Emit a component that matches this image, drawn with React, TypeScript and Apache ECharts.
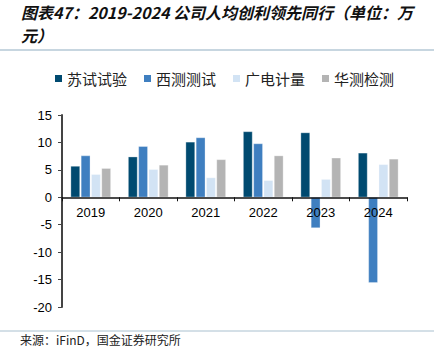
import React, { useEffect, useRef } from "react";
import * as echarts from "echarts";

const categories = ["2019", "2020", "2021", "2022", "2023", "2024"];
const seriesNames = ["苏试试验", "西测测试", "广电计量", "华测检测"];
const sushi = [5.7, 7.4, 10.1, 12.0, 11.8, 8.1];
const xice = [7.6, 9.3, 10.9, 9.8, -5.6, -15.6];
const guangdian = [4.2, 5.1, 3.6, 3.1, 3.3, 6.0];
const huace = [5.3, 5.9, 6.9, 7.6, 7.2, 7.0];
const yMin = -20;
const yMax = 15;
const yStep = 5;
const colors = ["#004a70", "#3f7fc0", "#d2e3f4", "#b4b4b4"];
const titleText = "图表47：2019-2024 公司人均创利领先同行（单位：万\n元）";
const sourceText = "来源：iFinD，国金证券研究所";

export default function App() {
  const ref = useRef<HTMLDivElement>(null);
  useEffect(() => {
    if (!ref.current) return;
    const chart = echarts.init(ref.current, null, { renderer: "svg" });
    const data = [sushi, xice, guangdian, huace];
    const gridTop = 115;
    const gridBottom = 45;
    const gridH = 352 - gridTop - gridBottom;
    const zeroOffset = -gridH * ((0 - yMin) / (yMax - yMin));
    chart.setOption({
      animation: false,
      backgroundColor: "#ffffff",
      color: colors,
      title: {
        text: titleText,
        left: 21,
        top: 0,
        padding: 0,
        textStyle: {
          fontFamily: "Noto Sans CJK SC",
          fontStyle: "italic",
          fontWeight: "bold",
          fontSize: 16,
          lineHeight: 23,
          color: "#111",
        },
      },
      legend: {
        data: seriesNames,
        top: 71,
        left: 55,
        padding: 0,
        itemWidth: 7,
        itemHeight: 7,
        itemGap: 17,
        itemStyle: { borderWidth: 0 },
        icon: "rect",
        textStyle: { fontFamily: "Noto Sans CJK SC", fontSize: 15, color: "#222" },
      },
      grid: { left: 62, right: 27, top: gridTop, bottom: gridBottom, containLabel: false },
      xAxis: {
        type: "category",
        data: categories,
        position: "bottom",
        offset: zeroOffset,
        z: 5,
        axisLine: { onZero: false, lineStyle: { color: "#111", width: 1.5 } },
        axisTick: { show: true, alignWithLabel: false, length: 4, lineStyle: { color: "#111" } },
        axisLabel: { margin: 9, fontFamily: "Liberation Sans", fontSize: 13, color: "#000" },
        splitLine: { show: false },
      },
      yAxis: {
        type: "value",
        min: yMin,
        max: yMax,
        interval: yStep,
        axisLine: { show: true, lineStyle: { color: "#444", width: 2 } },
        axisTick: { show: true, length: 4, lineStyle: { color: "#444" } },
        axisLabel: { margin: 10, fontFamily: "Liberation Sans", fontSize: 13, color: "#000" },
        splitLine: { show: false },
      },
      series: seriesNames.map((name, i) => ({
        name,
        type: "bar",
        z: 2,
        data: data[i],
        barGap: "10%",
        barCategoryGap: "30%",
        itemStyle: { color: colors[i], borderColor: "rgba(255,255,255,0.6)", borderWidth: 0.5 },
      })),
      graphic: [
        {
          type: "line",
          shape: { x1: 0, y1: 50, x2: 434, y2: 50 },
          style: { stroke: "#b4c8d6", lineWidth: 1.5 },
        },
        {
          type: "line",
          shape: { x1: 0, y1: 331, x2: 434, y2: 331 },
          style: { stroke: "#a9c0cf", lineWidth: 1 },
        },
        {
          type: "text",
          left: 20,
          top: 333,
          style: {
            text: sourceText,
            fontFamily: "Noto Sans CJK SC",
            fontSize: 12,
            fill: "#222",
          },
        },
      ],
    });
    return () => chart.dispose();
  }, []);
  return <div ref={ref} style={{ width: 434, height: 352, position: "absolute", left: 0, top: 0 }} />;
}
